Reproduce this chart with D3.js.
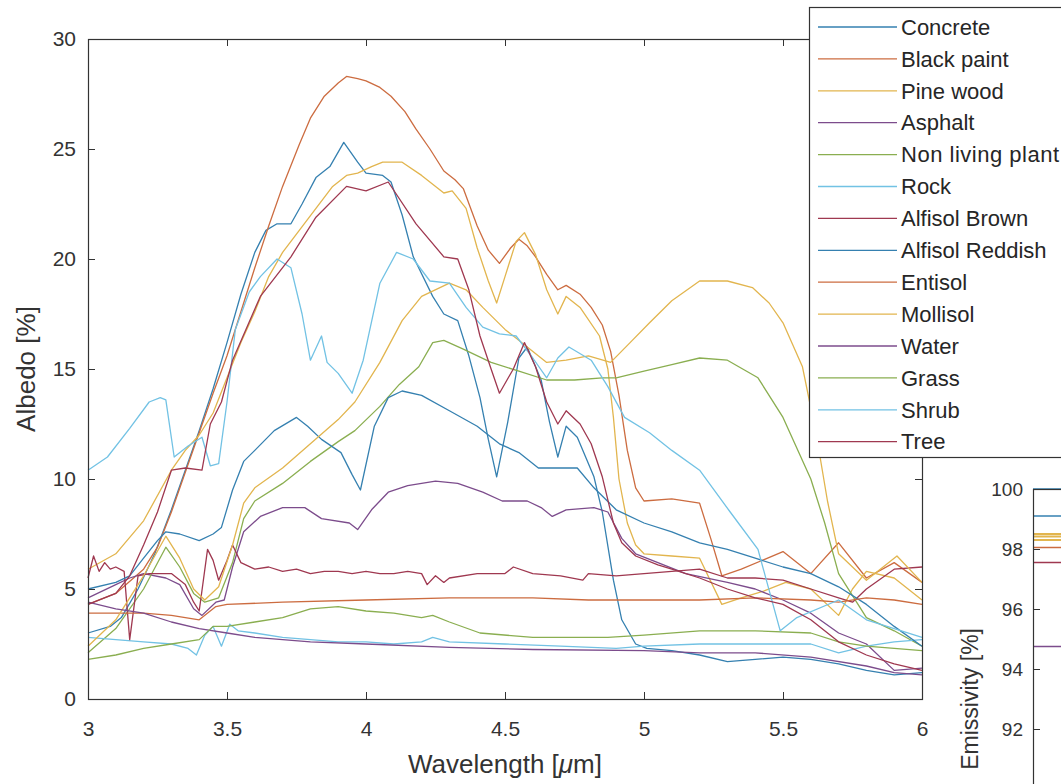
<!DOCTYPE html>
<html>
<head>
<meta charset="utf-8">
<script src="https://cdnjs.cloudflare.com/ajax/libs/d3/7.8.5/d3.min.js"></script>
<style>
    body { margin: 0; background: #fff; }
    svg { display: block; font-family: "Liberation Sans", Arial, Helvetica, sans-serif; }
    .tick text { fill: #333; }
    .tick line { stroke: #333; }
    .curve { fill: none; stroke-width: 1.3; stroke-linejoin: round; }
</style>
</head>
<body>
<svg id="chart"></svg>
<script>

const wavelengthTicks = [3, 3.5, 4, 4.5, 5, 5.5, 6]
const albedoTicks = [0, 5, 10, 15, 20, 25, 30]
const emissivityTicks = [92, 94, 96, 98, 100]

const materials = ['Concrete', 'Black paint', 'Pine wood', 'Asphalt', 'Non living plant',
                   'Rock', 'Alfisol Brown', 'Alfisol Reddish', 'Entisol', 'Mollisol',
                   'Water', 'Grass', 'Shrub', 'Tree']

// matlab default colour order, a bit faded like the picture
const palette = ['#3580b0', '#cc6c40', '#e2b54e', '#7c4c8c', '#8aae50', '#72c2e4', '#9f3850']

// [wavelength um, albedo %]
const concrete = [[3.0,3.0],[3.08,3.3],[3.12,3.7],[3.18,5.0],[3.24,6.6],[3.3,8.6],[3.35,10.4],[3.4,12.2],
    [3.45,14.1],[3.5,16.2],[3.55,18.4],[3.6,20.3],[3.64,21.3],[3.68,21.6],[3.73,21.6],[3.77,22.5],
    [3.82,23.7],[3.87,24.2],[3.92,25.3],[3.97,24.4],[4.0,23.9],[4.06,23.8],[4.09,23.5],[4.13,22.0],
    [4.17,20.1],[4.24,18.3],[4.28,17.5],[4.33,17.2],[4.37,15.6],[4.41,13.7],[4.44,11.8],[4.47,10.1],
    [4.51,12.6],[4.55,15.5],[4.58,16.0],[4.63,14.5],[4.66,12.6],[4.69,11.0],[4.72,12.4],[4.76,11.9],
    [4.82,10.1],[4.85,8.5],[4.89,5.4],[4.92,3.6],[4.97,2.5],[5.01,2.3],[5.1,2.2],[5.2,2.0],[5.3,1.7],
    [5.4,1.8],[5.5,1.9],[5.6,1.8],[5.7,1.6],[5.8,1.3],[5.9,1.1],[6.0,1.2]]

const blackPaint = [[3.0,4.3],[3.1,4.8],[3.2,5.9],[3.25,6.9],[3.3,8.5],[3.35,10.3],[3.4,12.1],[3.45,13.9],
    [3.5,15.6],[3.55,17.6],[3.6,19.6],[3.65,21.5],[3.7,23.3],[3.76,25.2],[3.8,26.4],[3.85,27.4],
    [3.9,28.0],[3.93,28.3],[3.97,28.2],[4.0,28.1],[4.05,27.8],[4.09,27.4],[4.14,26.7],[4.18,25.9],
    [4.23,25.0],[4.28,24.0],[4.32,23.6],[4.35,23.2],[4.4,21.5],[4.44,20.4],[4.48,19.8],[4.52,20.5],
    [4.55,20.9],[4.58,20.6],[4.61,20.1],[4.65,19.3],[4.69,18.6],[4.72,18.8],[4.77,18.4],[4.81,17.8],
    [4.85,17.0],[4.88,15.8],[4.91,13.8],[4.94,11.3],[4.97,9.6],[5.0,9.0],[5.1,9.1],[5.2,8.9],
    [5.24,7.3],[5.28,5.6],[5.35,5.9],[5.5,6.7],[5.6,5.7],[5.7,7.1],[5.8,5.5],[5.9,6.2],[6.0,5.3]]

const pineWood = [[3.0,5.9],[3.1,6.6],[3.2,8.1],[3.3,10.4],[3.35,11.3],[3.4,12.0],[3.45,13.0],[3.5,14.6],
    [3.55,16.2],[3.6,17.6],[3.65,19.2],[3.7,20.3],[3.76,21.3],[3.82,22.3],[3.88,23.3],[3.93,23.8],
    [3.97,23.9],[4.02,24.2],[4.06,24.4],[4.13,24.4],[4.2,23.8],[4.28,23.0],[4.31,23.1],[4.36,22.3],
    [4.4,20.5],[4.44,19.0],[4.47,18.0],[4.5,19.2],[4.54,20.8],[4.57,21.2],[4.61,20.2],[4.65,18.6],
    [4.69,17.5],[4.72,18.3],[4.77,17.8],[4.84,16.5],[4.87,15.0],[4.89,12.8],[4.91,10.0],[4.94,8.0],
    [4.97,7.0],[5.0,6.6],[5.1,6.5],[5.2,6.4],[5.28,4.3],[5.35,4.6],[5.43,4.9],[5.51,5.3],[5.6,5.0],
    [5.7,3.8],[5.75,5.0],[5.8,5.8],[5.9,5.5],[6.0,4.5]]

const asphalt = [[3.0,4.6],[3.1,5.2],[3.15,5.5],[3.2,5.7],[3.28,5.5],[3.33,5.2],[3.38,4.1],[3.41,3.8],
    [3.46,4.4],[3.49,4.5],[3.52,6.0],[3.56,7.6],[3.62,8.3],[3.7,8.7],[3.78,8.7],[3.84,8.2],[3.94,8.0],
    [3.97,7.7],[4.02,8.6],[4.08,9.4],[4.15,9.7],[4.25,9.9],[4.33,9.8],[4.42,9.4],[4.49,9.0],[4.58,9.0],
    [4.63,8.7],[4.67,8.3],[4.72,8.6],[4.82,8.7],[4.87,8.5],[4.92,7.3],[4.97,6.6],[5.05,6.2],[5.15,5.7],
    [5.3,5.3],[5.4,5.0],[5.5,4.5],[5.6,3.9],[5.7,3.0],[5.8,2.5],[5.9,1.3],[6.0,1.4]]

const nonLivingPlant = [[3.0,2.1],[3.1,3.2],[3.2,5.0],[3.28,6.9],[3.33,6.0],[3.38,4.8],[3.42,4.4],
    [3.47,4.6],[3.52,6.2],[3.56,8.2],[3.6,9.0],[3.7,9.8],[3.8,10.8],[3.9,11.7],[3.96,12.2],[4.05,13.3],
    [4.12,14.3],[4.19,15.1],[4.24,16.2],[4.28,16.3],[4.35,15.9],[4.45,15.3],[4.55,14.9],[4.65,14.5],
    [4.75,14.5],[4.85,14.6],[4.9,14.6],[5.0,14.9],[5.1,15.2],[5.2,15.5],[5.3,15.4],[5.41,14.6],
    [5.5,12.8],[5.6,10.0],[5.65,8.0],[5.7,5.7],[5.8,3.7],[5.9,3.1],[6.0,2.4]]

const rock = [[3.0,2.8],[3.1,2.7],[3.2,2.6],[3.3,2.5],[3.36,2.3],[3.39,2.0],[3.42,2.9],[3.45,3.3],
    [3.48,2.4],[3.51,3.4],[3.54,3.1],[3.6,3.0],[3.7,2.8],[3.8,2.7],[3.9,2.6],[4.0,2.6],[4.1,2.5],
    [4.2,2.6],[4.24,2.8],[4.3,2.6],[4.5,2.5],[4.7,2.4],[4.9,2.3],[5.0,2.4],[5.2,2.5],[5.4,2.5],
    [5.6,2.5],[5.7,2.1],[5.8,2.4],[5.9,2.6],[6.0,2.7]]

const alfisolBrown = [[3.0,5.5],[3.02,6.5],[3.04,5.8],[3.06,6.2],[3.08,5.9],[3.1,6.0],[3.13,5.8],
    [3.15,2.7],[3.18,5.6],[3.22,5.7],[3.3,5.7],[3.35,5.2],[3.38,4.4],[3.4,4.0],[3.43,6.8],[3.45,6.3],
    [3.47,5.4],[3.5,6.3],[3.52,7.0],[3.55,6.2],[3.6,5.9],[3.65,6.0],[3.7,5.8],[3.75,5.9],[3.8,5.7],
    [3.85,5.8],[3.9,5.8],[3.95,5.7],[4.0,5.8],[4.05,5.7],[4.1,5.7],[4.15,5.8],[4.2,5.7],[4.22,5.2],
    [4.25,5.6],[4.28,5.3],[4.3,5.5],[4.4,5.7],[4.5,5.7],[4.53,6.0],[4.6,5.7],[4.7,5.6],[4.78,5.4],
    [4.8,5.7],[4.9,5.6],[5.0,5.7],[5.1,5.8],[5.2,5.9],[5.3,5.5],[5.4,5.5],[5.5,5.4],[5.6,5.0],
    [5.7,4.6],[5.75,4.4],[5.8,5.0],[5.9,5.9],[6.0,6.0]]

const alfisolReddish = [[3.0,5.0],[3.1,5.3],[3.15,5.6],[3.2,6.4],[3.25,7.2],[3.28,7.6],[3.33,7.5],
    [3.4,7.2],[3.45,7.5],[3.48,7.8],[3.52,9.5],[3.56,10.8],[3.6,11.3],[3.67,12.2],[3.75,12.8],
    [3.79,12.4],[3.84,11.8],[3.91,11.2],[3.95,10.2],[3.98,9.5],[4.03,12.4],[4.08,13.7],[4.13,14.0],
    [4.2,13.8],[4.3,13.1],[4.4,12.4],[4.48,11.6],[4.55,11.2],[4.62,10.5],[4.7,10.5],[4.76,10.5],
    [4.82,9.6],[4.9,8.6],[5.0,8.0],[5.1,7.6],[5.2,7.1],[5.3,6.8],[5.4,6.4],[5.5,6.0],[5.6,5.7],
    [5.7,5.1],[5.8,4.3],[5.9,3.3],[6.0,2.4]]

const entisol = [[3.0,3.9],[3.1,3.9],[3.2,3.9],[3.3,3.8],[3.4,3.6],[3.46,4.2],[3.5,4.3],[3.7,4.4],
    [4.0,4.5],[4.3,4.6],[4.6,4.6],[4.8,4.5],[5.0,4.5],[5.2,4.5],[5.4,4.6],[5.6,4.5],[5.7,4.4],
    [5.8,4.6],[5.9,4.5],[6.0,4.3]]

const mollisol = [[3.0,2.4],[3.1,3.6],[3.2,5.6],[3.28,7.4],[3.33,6.4],[3.38,5.0],[3.42,4.5],[3.47,5.1],
    [3.52,7.0],[3.56,8.9],[3.6,9.6],[3.7,10.5],[3.8,11.6],[3.9,12.7],[3.96,13.5],[4.05,15.3],
    [4.13,17.2],[4.2,18.3],[4.3,18.9],[4.36,18.6],[4.42,17.8],[4.5,16.8],[4.58,16.0],[4.65,15.3],
    [4.72,15.4],[4.8,15.6],[4.88,15.3],[4.95,16.2],[5.02,17.1],[5.1,18.1],[5.2,19.0],[5.3,19.0],
    [5.39,18.7],[5.45,18.0],[5.5,17.1],[5.57,15.1],[5.62,12.0],[5.66,9.0],[5.69,7.2],[5.7,6.6],
    [5.8,5.4],[5.91,6.5],[6.0,5.3]]

const water = [[3.0,4.4],[3.1,4.1],[3.2,3.9],[3.3,3.5],[3.4,3.2],[3.5,3.0],[3.6,2.8],[3.8,2.6],
    [4.0,2.5],[4.3,2.35],[4.6,2.25],[5.0,2.2],[5.2,2.1],[5.4,2.1],[5.6,1.9],[5.8,1.5],[5.9,1.2],[6.0,1.1]]

const grass = [[3.0,1.8],[3.1,2.0],[3.2,2.3],[3.3,2.5],[3.4,2.7],[3.45,3.3],[3.5,3.3],[3.6,3.5],
    [3.7,3.7],[3.8,4.1],[3.9,4.2],[4.0,4.0],[4.1,3.9],[4.2,3.7],[4.24,3.8],[4.3,3.5],[4.41,3.0],
    [4.6,2.8],[4.87,2.8],[5.0,2.9],[5.2,3.1],[5.4,3.1],[5.6,3.0],[5.7,2.6],[5.8,2.4],[5.9,2.3],[6.0,2.2]]

const shrub = [[3.0,10.4],[3.07,11.0],[3.15,12.3],[3.22,13.5],[3.26,13.7],[3.28,13.6],[3.31,11.0],
    [3.36,11.5],[3.41,11.9],[3.44,10.6],[3.47,10.7],[3.5,13.5],[3.53,16.8],[3.58,18.5],[3.62,19.2],
    [3.68,20.0],[3.73,19.6],[3.77,17.5],[3.8,15.4],[3.84,16.5],[3.86,15.3],[3.9,14.8],[3.95,13.9],
    [3.99,15.4],[4.05,18.9],[4.11,20.3],[4.17,20.0],[4.23,19.0],[4.3,18.9],[4.36,17.8],[4.42,16.9],
    [4.48,16.6],[4.54,16.5],[4.6,15.5],[4.65,14.6],[4.69,15.5],[4.73,16.0],[4.81,15.4],[4.87,14.2],
    [4.93,12.8],[5.02,12.1],[5.1,11.3],[5.2,10.4],[5.31,8.5],[5.41,6.8],[5.49,3.1],[5.55,3.7],
    [5.7,4.5],[5.8,3.6],[6.0,2.8]]

const tree = [[3.0,4.3],[3.1,4.8],[3.15,5.6],[3.2,7.0],[3.25,8.5],[3.3,10.4],[3.35,10.5],[3.41,10.4],
    [3.44,12.5],[3.48,13.5],[3.52,15.4],[3.62,18.3],[3.73,20.1],[3.82,21.9],[3.93,23.3],[4.0,23.1],
    [4.08,23.5],[4.18,21.6],[4.28,20.1],[4.33,20.0],[4.37,18.6],[4.41,16.5],[4.45,15.0],[4.48,13.9],
    [4.53,15.0],[4.57,16.2],[4.61,15.1],[4.65,13.5],[4.69,12.5],[4.72,13.1],[4.77,12.5],[4.81,11.6],
    [4.85,10.1],[4.89,8.0],[4.92,7.1],[4.97,6.5],[5.05,6.1],[5.1,5.9],[5.2,5.5],[5.3,5.0],[5.4,4.6],
    [5.5,4.3],[5.6,3.6],[5.7,2.6],[5.8,2.0],[5.9,1.6],[6.0,1.3]]

const series = [concrete, blackPaint, pineWood, asphalt, nonLivingPlant, rock, alfisolBrown,
                alfisolReddish, entisol, mollisol, water, grass, shrub, tree]

// inset: emissivity levels visible at the edge of the picture
const emisValues = [100, 99.1, 98.5, 98.42, 98.3, 98.05, 97.55, 94.75]
const emisColors = [0, 0, 2, 2, 2, 1, 6, 3]

const dims = {
    width: 1061,
    height: 784,
}

const plot = {
    left: 88,
    right: 922,
    top: 39,
    bottom: 699,
}

var svg = d3.select('#chart')
            .attr('width', dims.width)
            .attr('height', dims.height)

var x = d3.scaleLinear().domain([3, 6]).range([plot.left, plot.right])
var y = d3.scaleLinear().domain([0, 30]).range([plot.bottom, plot.top])

var line = d3.line()
             .x(function (d) { return x(d[0]) })
             .y(function (d) { return y(d[1]) })

// curves
var g = svg.append('g')
g.selectAll('.curve')
 .data(series)
 .enter().append('path')
 .attr('class', 'curve')
 .attr('stroke', function (d, i) { return palette[i % 7] })
 .attr('d', line)

// axes, ticks pointing inward like matlab
var xAxis = svg.append('g')
               .attr('transform', `translate(0, ${plot.bottom})`)
               .call(d3.axisBottom(x).tickValues(wavelengthTicks)
                       .tickFormat(d3.format('')).tickSize(-7).tickPadding(22))
xAxis.select('.domain').remove()
xAxis.selectAll('text').style('font-size', '21px')

svg.append('g')
   .attr('transform', `translate(0, ${plot.top})`)
   .call(d3.axisTop(x).tickValues(wavelengthTicks).tickFormat('').tickSize(-7))
   .select('.domain').remove()

var yAxis = svg.append('g')
               .attr('transform', `translate(${plot.left}, 0)`)
               .call(d3.axisLeft(y).tickValues(albedoTicks).tickSize(-7).tickPadding(12))
yAxis.select('.domain').remove()
yAxis.selectAll('text').style('font-size', '21px')

svg.append('g')
   .attr('transform', `translate(${plot.right}, 0)`)
   .call(d3.axisRight(y).tickValues(albedoTicks).tickFormat('').tickSize(-7))
   .select('.domain').remove()

svg.append('rect')
   .attr('x', plot.left + 0.5).attr('y', plot.top + 0.5)
   .attr('width', plot.right - plot.left).attr('height', plot.bottom - plot.top)
   .attr('fill', 'none').attr('stroke', '#333').attr('stroke-width', 1.2)

// axis labels
var xLabel = svg.append('text')
                .attr('x', (plot.left + plot.right) / 2)
                .attr('y', 773)
                .attr('text-anchor', 'middle')
                .style('font-size', '26px').style('fill', '#333')
xLabel.append('tspan').text('Wavelength [')
xLabel.append('tspan').style('font-style', 'italic').text('\u03bc')
xLabel.append('tspan').text('m]')

svg.append('text')
   .attr('transform', 'translate(35, 369) rotate(-90)')
   .attr('text-anchor', 'middle')
   .style('font-size', '26px').style('fill', '#333')
   .text('Albedo [%]')

// legend
var legend = svg.append('g')
                .attr('class', 'legend')
                .attr('transform', 'translate(809, 7)')
legend.append('rect')
      .attr('x', 0.5).attr('y', 0.5)
      .attr('width', 300).attr('height', 450)
      .attr('fill', '#fff').attr('stroke', '#333').attr('stroke-width', 1.2)

var rows = legend.selectAll('.row')
                 .data(materials)
                 .enter().append('g')
                 .attr('class', 'row')
                 .attr('transform', function (d, i) {
                     return `translate(0, ${20 + i * 31.9})`
                 })
rows.append('line')
    .attr('x1', 9).attr('x2', 88)
    .attr('stroke', function (d, i) { return palette[i % 7] })
    .attr('stroke-width', 1.3)
rows.append('text')
    .attr('x', 92).attr('dy', '.35em')
    .style('font-size', '22px').style('fill', '#262626')
    .attr('textLength', function (d) { return d == 'Non living plant' ? 158 : null })
    .text(function (d) { return d })

// emissivity inset, mostly outside the picture
var inset = {
    left: 1033,
    top: 489,
}
var ex = d3.scaleLinear().domain([3, 6]).range([inset.left, inset.left + 400])
var ey = d3.scaleLinear().domain([90, 100]).range([inset.top + 300, inset.top])

svg.append('g')
   .selectAll('line')
   .data(emisValues)
   .enter().append('line')
   .attr('x1', ex(3)).attr('x2', ex(6))
   .attr('y1', function (d) { return ey(d) })
   .attr('y2', function (d) { return ey(d) })
   .attr('stroke', function (d, i) { return palette[emisColors[i]] })
   .attr('stroke-width', function (d, i) { return emisColors[i] == 2 ? 2 : 1.3 })

var eAxis = svg.append('g')
               .attr('transform', `translate(${inset.left}, 0)`)
               .call(d3.axisLeft(ey).tickValues(emissivityTicks).tickSize(-7).tickPadding(10))
eAxis.select('.domain').remove()
eAxis.selectAll('text').style('font-size', '19px')

svg.append('line')
   .attr('x1', inset.left + 0.5).attr('x2', inset.left + 0.5)
   .attr('y1', inset.top).attr('y2', dims.height)
   .attr('stroke', '#333').attr('stroke-width', 1.2)
svg.append('line')
   .attr('x1', inset.left).attr('x2', dims.width)
   .attr('y1', inset.top + 0.5).attr('y2', inset.top + 0.5)
   .attr('stroke', '#333').attr('stroke-width', 1.2)

svg.append('text')
   .attr('transform', 'translate(978, 628) rotate(-90)')
   .attr('text-anchor', 'end')
   .style('font-size', '23px').style('fill', '#333')
   .text('Emissivity [%]')

</script>
</body>
</html>
